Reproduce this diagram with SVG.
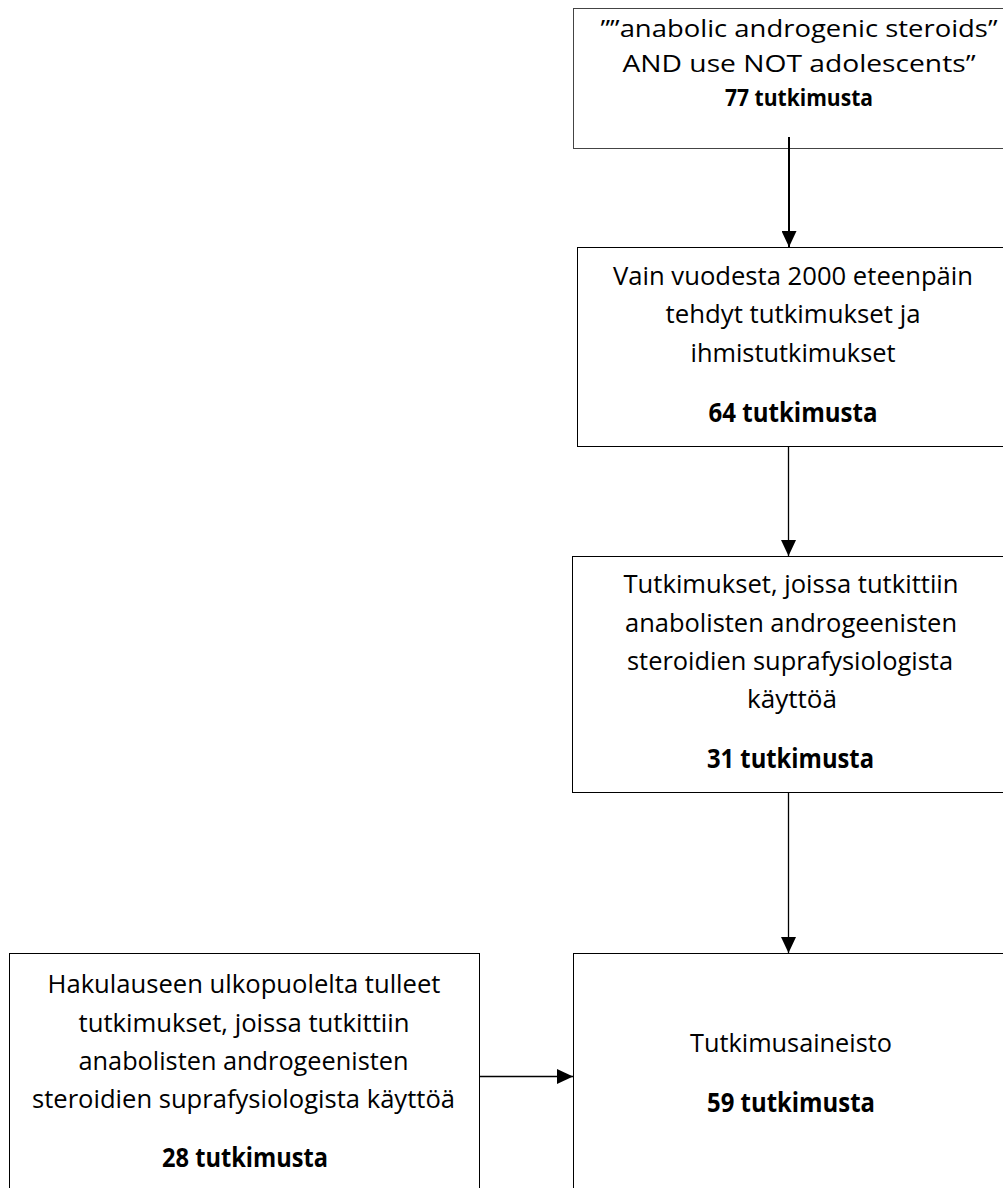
<svg xmlns="http://www.w3.org/2000/svg" width="1003" height="1188" viewBox="0 0 1003 1188">
<style>
.box{fill:#fff;stroke:#000;stroke-width:1}
.t{font-family:"Open Sans","Liberation Sans",sans-serif;font-size:26px;fill:#000;text-anchor:middle}
.s{font-size:23.5px}
.b{font-weight:bold}
.c{stroke:#000;stroke-width:1.3;fill:none}
</style>
<defs>
<marker id="ah" viewBox="0 0 16 15" refX="16" refY="7.5" markerWidth="16" markerHeight="15" markerUnits="userSpaceOnUse" orient="auto">
<path d="M0,0 L16,7.5 L0,15 z" fill="#000"/>
</marker>
</defs>
<rect width="1003" height="1188" fill="#fff"/>
<g id="n1">
<rect class="box" x="573.5" y="8.5" width="460" height="140" style="stroke:#444"/>
<text class="t s" x="799" y="37" textLength="397" lengthAdjust="spacingAndGlyphs">””anabolic androgenic steroids”</text>
<text class="t s" x="799" y="72" textLength="353" lengthAdjust="spacingAndGlyphs">AND use NOT adolescents”</text>
<text class="t s b" x="799" y="106" textLength="148" lengthAdjust="spacingAndGlyphs">77 tutkimusta</text>
</g>
<g id="n2">
<rect class="box" x="577.5" y="247.5" width="460" height="199"/>
<text class="t" x="793" y="285" textLength="360" lengthAdjust="spacingAndGlyphs">Vain vuodesta 2000 eteenpäin</text>
<text class="t" x="793" y="323" textLength="255" lengthAdjust="spacingAndGlyphs">tehdyt tutkimukset ja</text>
<text class="t" x="793" y="362" textLength="205" lengthAdjust="spacingAndGlyphs">ihmistutkimukset</text>
<text class="t b" x="793" y="422" textLength="169" lengthAdjust="spacingAndGlyphs">64 tutkimusta</text>
</g>
<g id="n3">
<rect class="box" x="572.5" y="556.5" width="460" height="236"/>
<text class="t" x="791" y="593" textLength="335" lengthAdjust="spacingAndGlyphs">Tutkimukset, joissa tutkittiin</text>
<text class="t" x="791" y="632" textLength="332" lengthAdjust="spacingAndGlyphs">anabolisten androgeenisten</text>
<text class="t" x="790" y="670" textLength="326" lengthAdjust="spacingAndGlyphs">steroidien suprafysiologista</text>
<text class="t" x="792" y="708" textLength="90" lengthAdjust="spacingAndGlyphs">käyttöä</text>
<text class="t b" x="790.5" y="768" textLength="167" lengthAdjust="spacingAndGlyphs">31 tutkimusta</text>
</g>
<g id="n4">
<rect class="box" x="573.5" y="953.5" width="460" height="300"/>
<text class="t" x="791" y="1052" textLength="202" lengthAdjust="spacingAndGlyphs">Tutkimusaineisto</text>
<text class="t b" x="791" y="1112" textLength="168" lengthAdjust="spacingAndGlyphs">59 tutkimusta</text>
</g>
<g id="n5">
<rect class="box" x="9.5" y="953.5" width="470" height="300"/>
<text class="t" x="244" y="993" textLength="393" lengthAdjust="spacingAndGlyphs">Hakulauseen ulkopuolelta tulleet</text>
<text class="t" x="244" y="1032" textLength="331" lengthAdjust="spacingAndGlyphs">tutkimukset, joissa tutkittiin</text>
<text class="t" x="243.5" y="1070" textLength="330" lengthAdjust="spacingAndGlyphs">anabolisten androgeenisten</text>
<text class="t" x="243.5" y="1108" textLength="423" lengthAdjust="spacingAndGlyphs">steroidien suprafysiologista käyttöä</text>
<text class="t b" x="245" y="1167" textLength="166" lengthAdjust="spacingAndGlyphs">28 tutkimusta</text>
</g>
<g id="connectors">
<line class="c" x1="789" y1="137" x2="789" y2="247" marker-end="url(#ah)" style="stroke-width:2"/>
<line class="c" x1="788.5" y1="447" x2="788.5" y2="556" marker-end="url(#ah)"/>
<line class="c" x1="788.5" y1="793" x2="788.5" y2="953" marker-end="url(#ah)"/>
<line class="c" x1="480" y1="1076.5" x2="573" y2="1076.5" marker-end="url(#ah)"/>
</g>
</svg>
